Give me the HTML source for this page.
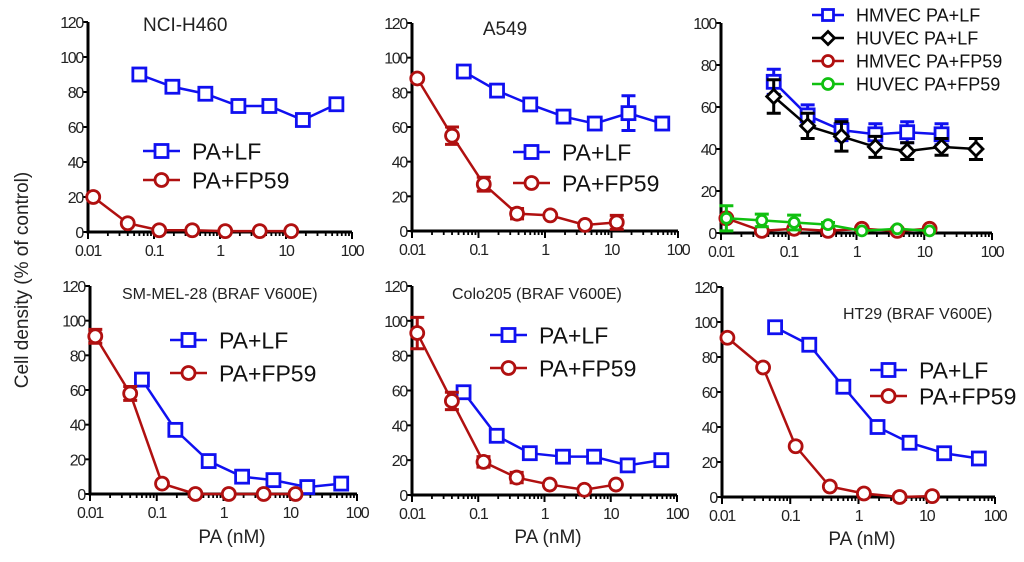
<!DOCTYPE html>
<html><head><meta charset="utf-8"><style>
html,body{margin:0;padding:0;background:#fff;}
svg{display:block;font-family:"Liberation Sans",sans-serif;}
</style></head><body>
<svg id="c" width="1024" height="562" viewBox="0 0 1024 562">
<text x="28" y="280" transform="rotate(-90 28 280)" text-anchor="middle" font-size="19" fill="#222">Cell density (% of control)</text>
</svg>
<script>
const doses7 = [0.06, 0.19, 0.6, 1.9, 5.6, 18, 58];
const dosesLow = [0.012, 0.04, 0.12, 0.38, 1.2, 4, 12];
const p1Blue = [90, 83, 79, 72, 72, 64, 73];
const p1Red = [20, 5, 1, 1, 0.5, 0.5, 0.5];
const p2Blue = [92, 81, 73, 66, 62, 68, 62];
const p2Red = [88, 55, 27, 10, 9, 3.5, 5];
const p3HmvecLF = [72, 56, 49, 47, 48, 47];
const p3HmvecLFErr = [6, 5, 5, 5, 5, 5];
const p3HuvecLF = [65, 51, 46, 41, 39, 41, 40];
const p3HuvecLFErr = [8, 6, 7, 5, 4, 4, 5];
const p3HmvecFP = [7, 1, 2, 1, 2, 1, 2];
const p3HuvecFP = [7, 6, 5, 4, 1, 2, 1];
const p3HuvecFPErr = [6, 3, 3.5, 1, 0, 0, 0];
const p4Blue = [66, 37, 19, 10, 8, 4, 6];
const p4Red = [91, 58, 6, 0, 0, 0, 0];
const p5Blue = [59, 34, 24, 22, 22, 17, 20];
const p5Red = [93, 54, 19, 10, 6, 3, 6];
const p6Blue = [97, 87, 63, 40, 31, 25, 22];
const p6Red = [91, 74, 29, 6, 2, 0, 0.5];
const xTicks = ["0.01","0.1","1","10","100"];

const NS="http://www.w3.org/2000/svg";
const svg=document.getElementById('c');
function mk(tag,attrs,parent){const e=document.createElementNS(NS,tag);for(const k in attrs)e.setAttribute(k,attrs[k]);(parent||svg).appendChild(e);return e;}
const BLUE="#1010f0",RED="#b01010",BLACK="#000",GREEN="#10c010";

function panel(name,x0,x1,y0,y1,ymax,ystep){
  const g=mk('g',{});
  
  
  const sx=v=>x0+(Math.log10(v)+2)/4*(x1-x0);
  const sy=v=>y0-(v/ymax)*(y0-y1);
  const ax=mk('path',{d:`M${x0},${y1} V${y0} H${x1}`,stroke:'#000','stroke-width':3,fill:'none'},g);
  
  
  for(let v=0;v<=ymax;v+=ystep){
    const y=sy(v);
    mk('line',{x1:x0-5,x2:x0,y1:y,y2:y,stroke:'#000','stroke-width':2},g);
    const t=mk('text',{x:x0-5,y:y+6,'text-anchor':'end','font-size':16,fill:'#222','letter-spacing':'-1.3'},g);
    t.textContent=v;
    
    
  }
  for(let d=0;d<4;d++)for(let m=2;m<10;m++){
    const x=sx(Math.pow(10,d-2)*m);
    mk('line',{x1:x,x2:x,y1:y0,y2:y0+4,stroke:'#000','stroke-width':1.8},g);
  }
  xTicks.forEach((lab,i)=>{
    const x=sx(parseFloat(lab));
    mk('line',{x1:x,x2:x,y1:y0,y2:y0+7,stroke:'#000','stroke-width':2},g);
    const t=mk('text',{x:x,y:y0+24,'text-anchor':'middle','font-size':16,fill:'#222','letter-spacing':'-1.3'},g);
    t.textContent=lab;
    
    
  });
  return {g,sx,sy};
}
function marker(g,type,x,y,col,s){
  if(type==='sq')return mk('rect',{x:x-s,y:y-s,width:2*s,height:2*s,fill:'#fff',stroke:col,'stroke-width':2.8},g);
  if(type==='ci')return mk('circle',{cx:x,cy:y,r:s,fill:'#fff',stroke:col,'stroke-width':2.8},g);
  return mk('path',{d:`M${x},${y-s} L${x+s},${y} L${x},${y+s} L${x-s},${y}Z`,fill:'#fff',stroke:col,'stroke-width':2.8},g);
}
function series(P,name,xs,ys,col,type,err,s){
  const g=mk('g',{},P.g);
  
  
  const n=ys.length;
  let d='';
  for(let i=0;i<n;i++)d+=(i?'L':'M')+P.sx(xs[i])+','+P.sy(ys[i]);
  mk('path',{d,stroke:col,'stroke-width':2.5,fill:'none'},g);
  for(let i=0;i<n;i++){
    const x=P.sx(xs[i]),y=P.sy(ys[i]);
    if(err&&err[i]>0){
      const a=P.sy(ys[i]+err[i]),b=P.sy(ys[i]-err[i]);
      mk('path',{d:`M${x},${a}V${b}M${x-7},${a}H${x+7}M${x-7},${b}H${x+7}`,stroke:col,'stroke-width':3,fill:'none'},g);
    }
    const m=marker(g,type,x,y,col,s||6.5);
    
    
  }
}
function legend(P,x,y,label,col,type,fs,len,s){
  const g=mk('g',{},P.g);
  
  
  mk('line',{x1:x,x2:x+len,y1:y,y2:y,stroke:col,'stroke-width':2.5},g);
  marker(g,type,x+len/2,y,col,s||6.5);
  const t=mk('text',{x:x+len+12,y:y+fs*0.36,'font-size':fs,fill:'#111'},g);
  t.textContent=label;
}
function title(P,x,y,txt,fs,anchor){
  const t=mk('text',{x,y,'font-size':fs,fill:'#222','text-anchor':anchor||'start'},P.g);
  t.textContent=txt;
  
  
}
function xtitle(P,x,y){
  const t=mk('text',{x,y,'font-size':19,fill:'#222','text-anchor':'middle'},P.g);
  t.textContent='PA (nM)';
  
  
}

// Panel 1
let P=panel('panel-nci-h460',88,352,232,22,120,20);
series(P,'pa-lf',doses7,p1Blue,BLUE,'sq');
series(P,'pa-fp59',dosesLow,p1Red,RED,'ci');
legend(P,143,151,'PA+LF',BLUE,'sq',23,37);
legend(P,143,180,'PA+FP59',RED,'ci',23,37);
title(P,143,31,'NCI-H460',19);

// Panel 2
P=panel('panel-a549',412,678,231,23,120,20);
series(P,'pa-lf',doses7,p2Blue,BLUE,'sq',[0,0,3,0,0,10,3]);
series(P,'pa-fp59',dosesLow,p2Red,RED,'ci',[0,5,4,3,0,0,4]);
legend(P,513,152,'PA+LF',BLUE,'sq',23,37);
legend(P,513,183,'PA+FP59',RED,'ci',23,37);
title(P,505,35,'A549',19,'middle');

// Panel 3
P=panel('panel-endothelial',721,992,233,23,100,20);
series(P,'hmvec-pa-fp59',dosesLow,p3HmvecFP,RED,'ci');
series(P,'huvec-pa-fp59',dosesLow,p3HuvecFP,GREEN,'ci',p3HuvecFPErr,5);
series(P,'hmvec-pa-lf',doses7.slice(0,6),p3HmvecLF,BLUE,'sq',p3HmvecLFErr);
series(P,'huvec-pa-lf',doses7,p3HuvecLF,BLACK,'di',p3HuvecLFErr,7);
legend(P,812,15,'HMVEC  PA+LF',BLUE,'sq',18,32,5.5);
legend(P,812,38,'HUVEC  PA+LF',BLACK,'di',18,32,6.5);
legend(P,812,61,'HMVEC  PA+FP59',RED,'ci',18,32,5.5);
legend(P,812,84,'HUVEC  PA+FP59',GREEN,'ci',18,32,5.5);

// Panel 4
P=panel('panel-sm-mel-28',90,357,494,286,120,20);
series(P,'pa-lf',doses7,p4Blue,BLUE,'sq');
series(P,'pa-fp59',dosesLow,p4Red,RED,'ci',[4,4,0,0,0,0,0]);
legend(P,170,340,'PA+LF',BLUE,'sq',23,37);
legend(P,170,373,'PA+FP59',RED,'ci',23,37);
title(P,122,299,'SM-MEL-28 (BRAF V600E)',16);
xtitle(P,232,543);

// Panel 5
P=panel('panel-colo205',412,677,495,286,120,20);
series(P,'pa-lf',doses7,p5Blue,BLUE,'sq');
series(P,'pa-fp59',dosesLow,p5Red,RED,'ci',[9,5,3,3,0,0,0]);
legend(P,490,335,'PA+LF',BLUE,'sq',23,37);
legend(P,490,368,'PA+FP59',RED,'ci',23,37);
title(P,452,299,'Colo205 (BRAF V600E)',16);
xtitle(P,548,543);

// Panel 6
P=panel('panel-ht29',722,995,497,287,120,20);
series(P,'pa-lf',doses7,p6Blue,BLUE,'sq');
series(P,'pa-fp59',dosesLow,p6Red,RED,'ci');
legend(P,870,370,'PA+LF',BLUE,'sq',23,37);
legend(P,870,396,'PA+FP59',RED,'ci',23,37);
title(P,843,319,'HT29 (BRAF V600E)',16);
xtitle(P,862,545);
</script>
</body></html>
